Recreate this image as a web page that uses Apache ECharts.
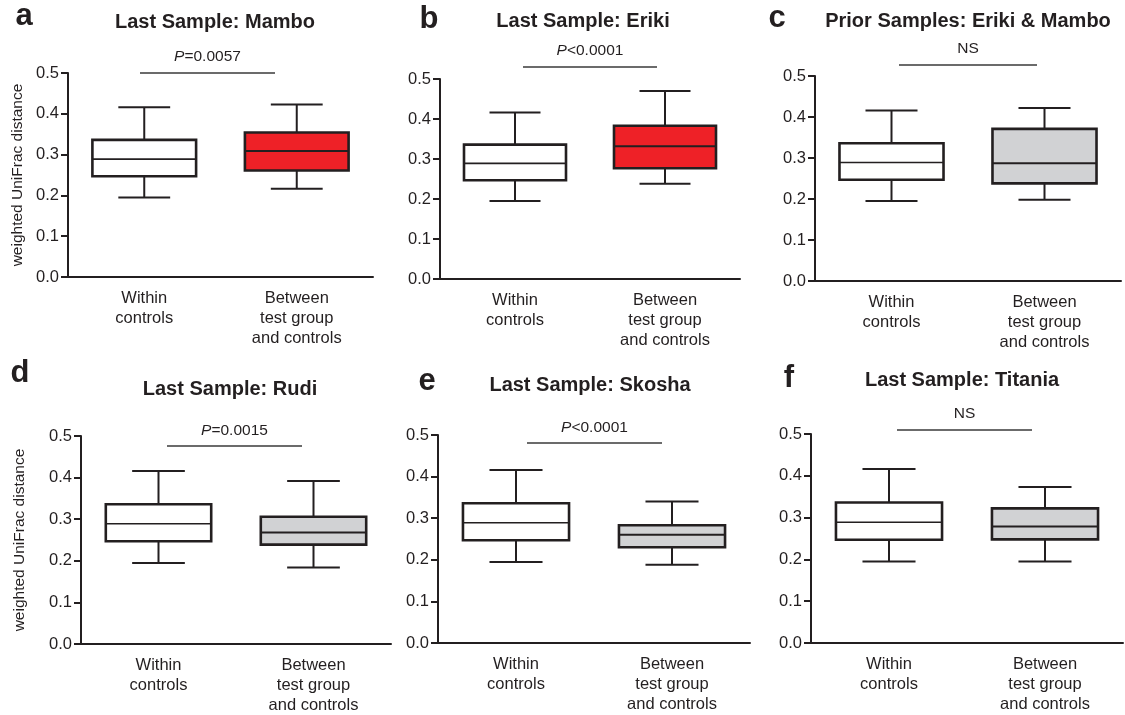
<!DOCTYPE html>
<html>
<head>
<meta charset="utf-8">
<script src="https://cdn.jsdelivr.net/npm/echarts@6/dist/echarts.min.js"></script>
<style>
  html, body { margin: 0; padding: 0; background: #fff; }
  #main { width: 1125px; height: 715px; }
</style>
</head>
<body>
<div id="main"></div>
<script>
// box stats: [min, Q1, median, Q3, max]
const categories = ['Within\ncontrols', 'Between\ntest group\nand controls'];
const panelLetters = ['a', 'b', 'c', 'd', 'e', 'f'];
const panelTitles = [
  'Last Sample: Mambo',
  'Last Sample: Eriki',
  'Prior Samples: Eriki & Mambo',
  'Last Sample: Rudi',
  'Last Sample: Skosha',
  'Last Sample: Titania'
];
const pValues = ['P=0.0057', 'P<0.0001', 'NS', 'P=0.0015', 'P<0.0001', 'NS'];
const yTicks = [0, 0.1, 0.2, 0.3, 0.4, 0.5];

const withinControls = [0.195, 0.247, 0.289, 0.336, 0.416];
const betweenMambo = [0.216, 0.261, 0.309, 0.354, 0.423];
const betweenEriki = [0.238, 0.277, 0.332, 0.383, 0.470];
const betweenPrior = [0.198, 0.238, 0.287, 0.371, 0.422];
const betweenRudi = [0.184, 0.239, 0.268, 0.306, 0.392];
const betweenSkosha = [0.188, 0.230, 0.260, 0.283, 0.340];
const betweenTitania = [0.195, 0.248, 0.279, 0.322, 0.373];
const betweenSets = [betweenMambo, betweenEriki, betweenPrior, betweenRudi, betweenSkosha, betweenTitania];

const RED = '#ee2127';
const GREY = '#d1d2d4';
const INK = '#231f20';
const FONT = '"Liberation Sans", Arial, sans-serif';
const betweenFill = [RED, RED, GREY, GREY, GREY, GREY];

// layout of each panel (pixels)
const grids = [
  { left: 68, top: 73, width: 305, height: 204 },
  { left: 440, top: 79, width: 300, height: 200 },
  { left: 815, top: 76, width: 306, height: 205 },
  { left: 81, top: 436, width: 310, height: 208 },
  { left: 438, top: 435, width: 312, height: 208 },
  { left: 811, top: 434, width: 312, height: 209 }
];
const titlePos = [[215, 22], [583, 21], [968, 21], [230, 389], [590, 385], [962, 380]];
const letterPos = [[24, 16], [429, 19], [777, 18], [20, 373], [427, 381], [789, 378]];
const sigPos = [ // x1, x2, y line, y text
  [140, 275, 73, 57],
  [523, 657, 67, 51],
  [899, 1037, 65, 49],
  [167, 302, 446, 431],
  [527, 662, 443, 428],
  [897, 1032, 430, 414]
];
const yNameGap = [42, 53];

function renderBox(params, api) {
  const idx = api.value(0);
  const pMin = api.coord([idx, api.value(1)]);
  const yQ1 = api.coord([idx, api.value(2)])[1];
  const yMed = api.coord([idx, api.value(3)])[1];
  const yQ3 = api.coord([idx, api.value(4)])[1];
  const yMax = api.coord([idx, api.value(5)])[1];
  const cx = pMin[0];
  const yMin = pMin[1];
  const boxW = api.size([1, 0])[0] * 0.68;
  const capW = boxW * 0.5;
  const line = (x1, y1, x2, y2, w) => ({
    type: 'line',
    shape: { x1: x1, y1: y1, x2: x2, y2: y2 },
    style: { stroke: INK, lineWidth: w }
  });
  return {
    type: 'group',
    children: [
      line(cx, yQ3, cx, yMax, 2),
      line(cx - capW / 2, yMax, cx + capW / 2, yMax, 2),
      line(cx, yQ1, cx, yMin, 2),
      line(cx - capW / 2, yMin, cx + capW / 2, yMin, 2),
      {
        type: 'rect',
        shape: { x: cx - boxW / 2, y: yQ3, width: boxW, height: yQ1 - yQ3 },
        style: { fill: api.visual('color'), stroke: INK, lineWidth: 2.6 }
      },
      line(cx - boxW / 2, yMed, cx + boxW / 2, yMed, api.value(0) === 0 ? 1.6 : 2)
    ]
  };
}

const xAxes = [], yAxes = [], series = [], graphics = [];
grids.forEach((g, i) => {
  xAxes.push({
    gridIndex: i,
    type: 'category',
    data: categories,
    boundaryGap: true,
    axisLine: { lineStyle: { color: INK, width: 2 } },
    axisTick: { alignWithLabel: true, length: 6, lineStyle: { color: INK, width: 2 } },
    axisLabel: {
      interval: 0, margin: 11, color: INK, fontFamily: FONT, fontSize: 16.5, lineHeight: 20
    }
  });
  yAxes.push({
    gridIndex: i,
    type: 'value',
    min: yTicks[0],
    max: yTicks[yTicks.length - 1],
    interval: 0.1,
    name: (i === 0 || i === 3) ? 'weighted UniFrac distance' : '',
    nameLocation: 'middle',
    nameGap: i === 0 ? yNameGap[0] : yNameGap[1],
    nameTextStyle: { color: INK, fontFamily: FONT, fontSize: 15.5 },
    splitLine: { show: false },
    axisLine: { show: true, lineStyle: { color: INK, width: 2 } },
    axisTick: { show: true, length: 7, lineStyle: { color: INK, width: 2 } },
    axisLabel: {
      margin: 9, color: INK, fontFamily: FONT, fontSize: 16.5,
      formatter: v => v.toFixed(1)
    }
  });
  series.push({
    type: 'custom',
    xAxisIndex: i,
    yAxisIndex: i,
    renderItem: renderBox,
    encode: { x: 0, y: [1, 2, 3, 4, 5] },
    data: [
      { value: [0].concat(withinControls), itemStyle: { color: '#ffffff' } },
      { value: [1].concat(betweenSets[i]), itemStyle: { color: betweenFill[i] } }
    ],
    silent: true,
    z: 3
  });

  graphics.push({
    type: 'text', x: titlePos[i][0], y: titlePos[i][1],
    style: {
      text: panelTitles[i], fill: INK, align: 'center', verticalAlign: 'middle',
      font: 'bold 20px ' + FONT
    }
  });
  graphics.push({
    type: 'text', x: letterPos[i][0], y: letterPos[i][1],
    style: {
      text: panelLetters[i], fill: INK, align: 'center', verticalAlign: 'middle',
      font: 'bold 31px ' + FONT
    }
  });
  const s = sigPos[i];
  graphics.push({
    type: 'line',
    shape: { x1: s[0], y1: s[2], x2: s[1], y2: s[2] },
    style: { stroke: '#3a3a3a', lineWidth: 1.5 }
  });
  const pv = pValues[i];
  graphics.push({
    type: 'text', x: (s[0] + s[1]) / 2, y: s[3],
    style: {
      text: pv.charAt(0) === 'P' ? '{i|P}' + pv.slice(1) : pv,
      rich: { i: { fontStyle: 'italic', fontSize: 15.5, fontFamily: FONT, fill: INK } },
      fill: INK, align: 'center', verticalAlign: 'middle',
      font: '15.5px ' + FONT
    }
  });
});

const chart = echarts.init(document.getElementById('main'), null, { renderer: 'canvas' });
chart.setOption({
  backgroundColor: '#ffffff',
  animation: false,
  grid: grids.map(g => Object.assign({ containLabel: false }, g)),
  xAxis: xAxes,
  yAxis: yAxes,
  series: series,
  graphic: graphics
});
</script>
</body>
</html>
